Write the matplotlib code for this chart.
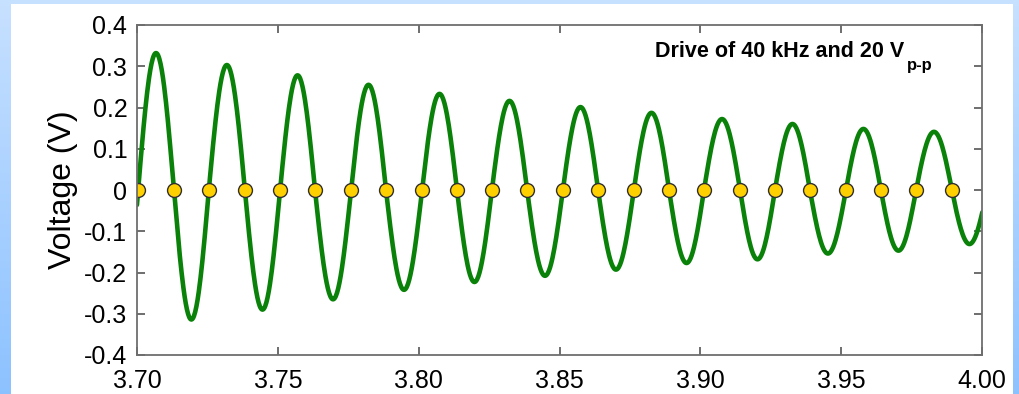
import matplotlib
matplotlib.use('Agg')
import matplotlib.pyplot as plt
import numpy as np
from matplotlib.patches import Rectangle

plt.rcParams['font.family'] = ['Liberation Sans', 'DejaVu Sans']

# zero crossings of the ring-down signal (time in ms)
crossings_ms = [3.7004, 3.7131, 3.7255, 3.7383, 3.7508, 3.7632, 3.7760, 3.7884,
                3.8012, 3.8136, 3.8260, 3.8385, 3.8512, 3.8637, 3.8764, 3.8889,
                3.9013, 3.9141, 3.9265, 3.9389, 3.9517, 3.9641, 3.9766, 3.9893]
# crossing just before / just after the shown window
lead_crossing_ms = 3.6879
tail_crossing_ms = 4.0018

# peak voltages of each half cycle (V)
peak_volts = [0.332, 0.303, 0.278, 0.255, 0.233, 0.216,
              0.201, 0.187, 0.172, 0.160, 0.148, 0.141]
trough_volts = [-0.314, -0.290, -0.265, -0.242, -0.223, -0.208,
                -0.193, -0.177, -0.168, -0.154, -0.147, -0.131]
lead_trough_volts = -0.34

y_ticks = [-0.4, -0.3, -0.2, -0.1, 0, 0.1, 0.2, 0.3, 0.4]
y_tick_labels = ['-0.4', '-0.3', '-0.2', '-0.1', '0', '0.1', '0.2', '0.3', '0.4']
x_ticks = [3.70, 3.75, 3.80, 3.85, 3.90, 3.95, 4.00]
x_tick_labels = ['3.70', '3.75', '3.80', '3.85', '3.90', '3.95', '4.00']

W, H = 1019, 394


def build_trace():
    '''
    join half-sine lobes between consecutive crossings, each lobe
    reaching the peak voltage read for that half cycle
    '''
    edges = [lead_crossing_ms] + crossings_ms + [tail_crossing_ms]
    amps = [lead_trough_volts]
    for p, t in zip(peak_volts, trough_volts):
        amps += [p, t]
    t_all, v_all = [], []
    for a, b, amp in zip(edges[:-1], edges[1:], amps):
        t = np.linspace(a, b, 60)
        t_all.append(t)
        v_all.append(amp * np.sin(np.pi * (t - a) / (b - a)))
    return np.concatenate(t_all), np.concatenate(v_all)


fig = plt.figure(figsize=(W / 100, H / 100), dpi=100)

# blue gradient frame with white panel
bg = fig.add_axes([0, 0, 1, 1])
grad = np.linspace(0, 1, 256)[:, None]
top_c = np.array([0.78, 0.88, 1.0])
bot_c = np.array([0.55, 0.76, 1.0])
img = top_c + (bot_c - top_c) * grad[:, :, None]
bg.imshow(img, aspect='auto', extent=[0, 1, 0, 1], origin='upper')
bg.add_patch(Rectangle((11 / W, 0), (1013 - 11) / W, (H - 4) / H,
                       transform=bg.transAxes, color='white', lw=0))
bg.set_xlim(0, 1)
bg.set_ylim(0, 1)
bg.axis('off')

ax = fig.add_axes([137 / W, 39 / H, 845 / W, 330 / H])
t, v = build_trace()
ax.plot(t, v, color='#0a820a', lw=3.3, solid_capstyle='round')
ax.plot(crossings_ms, np.zeros(len(crossings_ms)), 'o', ms=10,
        markerfacecolor='#ffd000', markeredgecolor='#303030', mew=1.0)

ax.set_xlim(3.70, 4.00)
ax.set_ylim(-0.4, 0.4)
ax.set_xticks(x_ticks)
ax.set_xticklabels(x_tick_labels)
ax.set_yticks(y_ticks)
ax.set_yticklabels(y_tick_labels)
ax.tick_params(direction='in', length=6, width=1.2, color='#555555',
               top=True, right=True, labelsize=18)
ax.tick_params(axis='x', pad=10)
ax.tick_params(axis='y', pad=7)
for s in ax.spines.values():
    s.set_color('#6e6e6e')
    s.set_linewidth(1.3)
ax.set_ylabel('Voltage (V)', fontsize=23, labelpad=4)

ax.text(904 / W, 1 - 57 / H, 'Drive of 40 kHz and 20 V', transform=fig.transFigure,
        ha='right', va='baseline', fontsize=15.5, fontweight='bold')
ax.text(907 / W, 1 - 70 / H, 'p-p', transform=fig.transFigure,
        ha='left', va='baseline', fontsize=12, fontweight='bold')

fig.savefig('out.png', dpi=100)
